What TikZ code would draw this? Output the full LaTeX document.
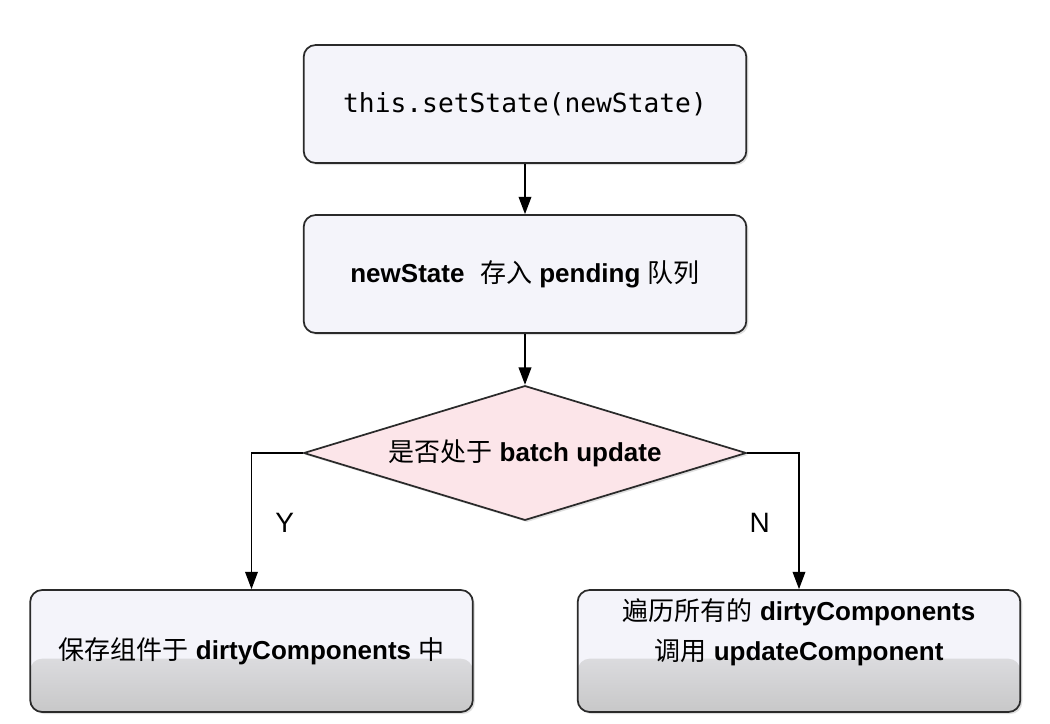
\documentclass[tikz,border=0pt]{standalone}
\usepackage{fontspec}
\setmainfont{Liberation Sans}
\setmonofont{DejaVu Sans Mono}
\newfontfamily\cjk{Noto Sans CJK SC}
\usepackage{tikz}
\usetikzlibrary{shapes.geometric, arrows.meta, shadows}

\definecolor{boxfill}{HTML}{F4F4FA}
\definecolor{decfill}{HTML}{FCE5E9}
\definecolor{edgegray}{HTML}{2A2A2A}

\newcommand{\zh}[1]{{\cjk #1}}
\newcommand{\en}[1]{\textbf{#1}}

\begin{document}
\begin{tikzpicture}[x=0.75pt, y=-0.75pt,
    flowbox/.style={draw=edgegray, line width=1.3pt, fill=boxfill, rounded corners=9pt,
        minimum width=332pt, minimum height=88.5pt,
        drop shadow={opacity=0.25, shadow xshift=1.5pt, shadow yshift=-1.5pt},
        font=\fontsize{19.5}{30}\selectfont},
    fadebox/.style={minimum height=91.5pt,
        path picture={\shade[top color=boxfill, bottom color=black!24]
            ([yshift=-12pt]path picture bounding box.south west) rectangle ([yshift=40pt]path picture bounding box.south east);}},
    decision/.style={diamond, aspect=3.3, draw=edgegray, line width=1.3pt, fill=decfill, inner sep=0pt,
        minimum width=332pt, minimum height=101pt,
        drop shadow={opacity=0.25, shadow xshift=1.5pt, shadow yshift=-1.5pt},
        font=\fontsize{19.5}{24}\selectfont},
    flow/.style={draw=black, line width=1.1pt, -{Triangle[length=13pt, width=9.5pt]}},
    branch/.style={font=\fontsize{21}{24}\selectfont}
]
    % Canvas
    \fill[white] (0,0) rectangle (1050,724);
    \useasboundingbox (0,0) rectangle (1050,724);

    % Steps
    \node[flowbox, font=\ttfamily\fontsize{19.7}{24}\selectfont] (call) at (525,104) {this.setState(newState)};
    \node[flowbox] (queue) at (525,274) {\en{newState}\hspace{0.6em}\zh{存入} \en{pending} \zh{队列}};
    \node[decision] (batch) at (525,453) {\zh{是否处于} \en{batch update}};

    % Outcomes
    \node[flowbox, fadebox] (save) at (251.5,651) {\zh{保存组件于} \en{dirtyComponents} \zh{中}};
    \node[flowbox, fadebox] (walk) at (799,651) {};
    \node[font=\fontsize{19.5}{30}\selectfont, align=center] (walktext) at (799,632)
        {\zh{遍历所有的} \en{dirtyComponents}\\\zh{调用} \en{updateComponent}};

    % Connectors
    \draw[flow] (call) -- (queue);
    \draw[flow] (queue) -- (batch);
    \draw[flow] (batch.west) -| node[pos=0.755, right=14pt, branch] {Y} (save.north);
    \draw[flow] (batch.east) -| node[pos=0.755, left=18pt, branch] {N} (walk.north);
\end{tikzpicture}
\end{document}
